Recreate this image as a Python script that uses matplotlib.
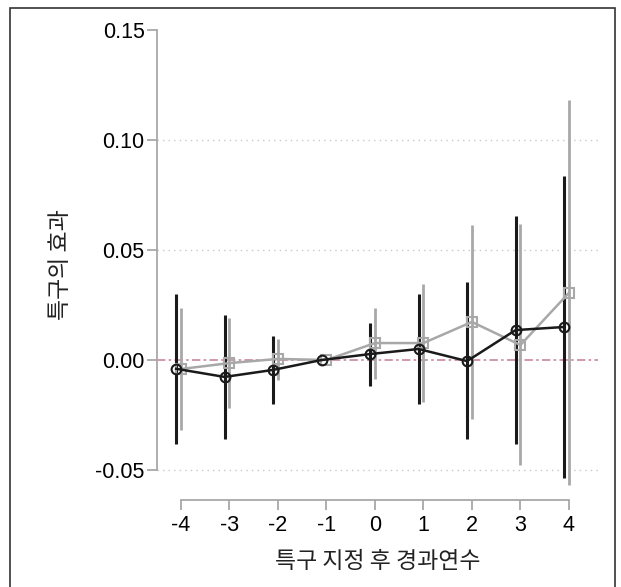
import numpy as np
import matplotlib
matplotlib.use("Agg")
import matplotlib.pyplot as plt
from matplotlib.patches import Rectangle

plt.rcParams['font.family'] = ['Liberation Sans', 'Noto Sans CJK KR', 'DejaVu Sans']
plt.rcParams['axes.unicode_minus'] = False

# years since designation
years = [-4, -3, -2, -1, 0, 1, 2, 3, 4]

# black series (circles)
est_a = [-0.004, -0.0077, -0.0045, 0.0, 0.0027, 0.005, -0.0005, 0.0136, 0.015]
lo_a = [-0.038, -0.036, -0.020, 0.0, -0.012, -0.020, -0.036, -0.038, -0.0536]
hi_a = [0.030, 0.0205, 0.011, 0.0, 0.017, 0.030, 0.0355, 0.0655, 0.0836]

# gray series (squares)
est_b = [-0.0041, -0.0014, 0.0005, 0.0, 0.0077, 0.0077, 0.0173, 0.0068, 0.0305]
lo_b = [-0.032, -0.022, -0.009, 0.0, -0.0086, -0.019, -0.027, -0.0477, -0.057]
hi_b = [0.0236, 0.019, 0.0095, 0.0, 0.0236, 0.0345, 0.0614, 0.0618, 0.118]

yticks = [-0.05, 0.00, 0.05, 0.10, 0.15]
ytick_labels = ["-0.05", "0.00", "0.05", "0.10", "0.15"]

W, H = 621, 587
fig = plt.figure(figsize=(W / 100, H / 100), dpi=100)
ax = fig.add_axes([157 / W, 1 - 500 / H, (598 - 157) / W, (500 - 30) / H])

# frame around the figure
fig.patches.append(Rectangle((10 / W, -0.02), (615 - 10) / W, 1 - 8 / H + 0.02,
                             transform=fig.transFigure, fill=False,
                             edgecolor='#333333', lw=1.2))

xa = np.array(years) - 0.1
xb = np.array(years, dtype=float)

for g in [-0.05, 0.05, 0.10]:
    ax.axhline(g, color='#c8c8c8', lw=1, ls=(0, (1, 3)), zorder=0)
ax.axhline(0, color='#c8869e', lw=1.2, ls=(0, (5, 2, 1.5, 2)), zorder=1)

ax.vlines(xb, lo_b, hi_b, color='#a8a8a8', lw=2, zorder=2)
ax.vlines(xa, lo_a, hi_a, color='#1a1a1a', lw=2.2, zorder=3)
ax.plot(xb, est_b, color='#a8a8a8', lw=1.8, marker='s', ms=6.5,
        mfc='none', mec='#a8a8a8', mew=1.5, zorder=4)
ax.plot(xa, est_a, color='#1a1a1a', lw=1.8, marker='o', ms=7,
        mfc='none', mec='#1a1a1a', mew=1.5, zorder=5)

ax.set_xlim(-4.495, 4.6)
ax.set_ylim((360 - 500) / 2200, 0.15)

for s in ['top', 'right']:
    ax.spines[s].set_visible(False)
ax.spines['left'].set_bounds(-0.05, 0.15)
ax.spines['bottom'].set_bounds(-4, 4)
for s in ['left', 'bottom']:
    ax.spines[s].set_color('#a8a8a8')
    ax.spines[s].set_linewidth(1.3)

ax.set_xticks(years)
ax.set_xticklabels([str(y) for y in years])
ax.set_yticks(yticks)
ax.set_yticklabels(ytick_labels)
ax.tick_params(axis='both', colors='#a8a8a8', labelcolor='#000000',
               length=7, width=1.3, labelsize=15.5, pad=4)
ax.tick_params(axis='y', pad=2)

ax.set_xlabel("특구 지정 후 경과연수", fontsize=16.5, family=['Noto Sans CJK KR'],
              color='#222222', labelpad=10)
ax.set_ylabel("특구의 효과", fontsize=16.5, family=['Noto Sans CJK KR'],
              color='#222222', labelpad=17)

fig.savefig("out.png", dpi=100)
